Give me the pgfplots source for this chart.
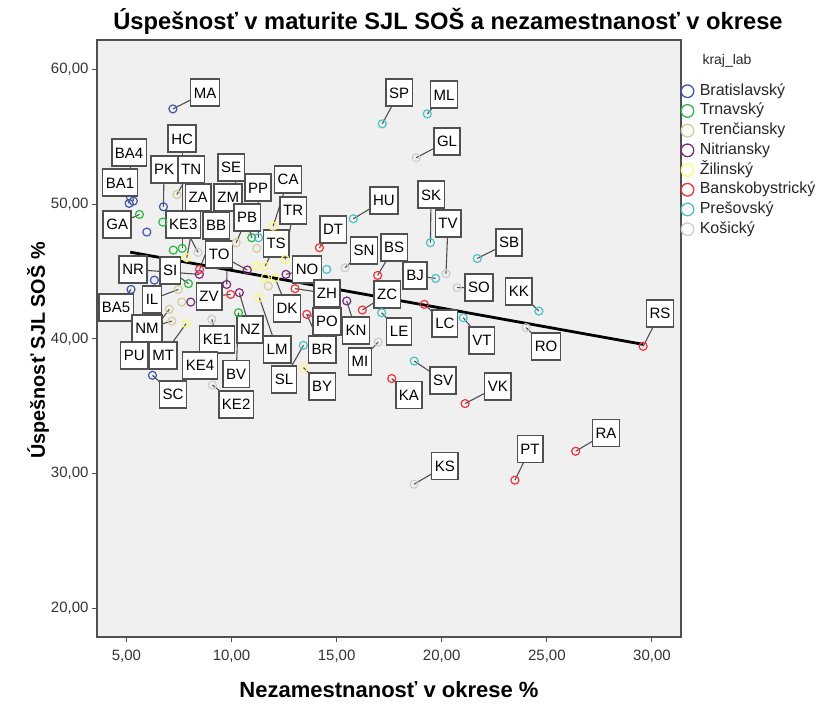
\documentclass[border=0pt]{standalone}
\usepackage{fontspec}
\setmainfont{Liberation Sans}
\usepackage{pgfplots}
\usepackage{pgfplotstable}
\pgfplotsset{compat=1.18}

\definecolor{cBA}{HTML}{3E58AC}
\definecolor{cTT}{HTML}{2EB848}
\definecolor{cTN}{HTML}{D3CE97}
\definecolor{cNR}{HTML}{7C287D}
\definecolor{cZA}{HTML}{FBF873}
\definecolor{cBB}{HTML}{EF3338}
\definecolor{cPO}{HTML}{48C2C5}
\definecolor{cKE}{HTML}{CCCCCC}
\definecolor{bgc}{HTML}{F0F0F0}
\definecolor{frm}{HTML}{505050}

\pgfplotstableread{
x y
7.21 57.08
5.13 50.06
5.33 50.23
6.76 49.81
5.97 47.93
6.33 44.36
5.22 43.67
6.24 37.29
}\tBA
\pgfplotstableread{
x y
5.62 49.24
6.73 48.67
7.23 46.59
7.65 46.72
7.95 44.10
10.96 47.51
10.33 41.94
}\tTT
\pgfplotstableread{
x y
7.40 50.72
10.22 47.14
11.20 46.72
7.47 43.67
7.63 42.73
7.04 42.19
7.16 41.32
11.75 43.92
}\tTN
\pgfplotstableread{
x y
8.47 44.79
10.75 45.11
12.59 44.79
8.06 42.73
9.77 44.04
10.37 43.43
15.48 42.81
}\tNR
\pgfplotstableread{
x y
11.98 48.37
7.87 46.03
12.55 45.90
11.15 45.40
11.60 45.40
11.60 44.54
12.07 44.54
11.32 43.06
7.84 41.13
13.42 37.86
}\tZA
\pgfplotstableread{
x y
8.48 45.16
14.18 46.77
13.02 43.73
9.96 43.30
13.58 41.82
16.95 44.71
16.22 42.14
19.17 42.56
17.62 37.05
21.11 35.19
23.48 29.50
26.37 31.65
29.58 39.44
}\tBB
\pgfplotstableread{
x y
11.28 47.51
15.79 48.92
14.53 45.16
17.17 55.97
19.31 56.71
19.46 47.14
19.71 44.49
21.69 45.97
24.62 42.06
17.14 41.94
21.02 41.57
13.42 39.52
18.69 38.35
}\tPO
\pgfplotstableread{
x y
8.41 46.42
9.06 41.45
9.09 36.57
15.40 45.28
20.20 44.84
20.73 43.80
16.98 39.76
18.78 53.45
24.01 40.83
18.68 29.20
}\tKE

\pgfplotstableread{
lab x y lx ly
MA 7.21 57.08 8.74 58.29
HC 7.65 46.72 7.65 54.88
BA4 5.33 50.23 5.13 53.84
BA1 5.13 50.06 4.70 51.61
GA 5.62 49.24 4.56 48.50
PK 6.76 49.81 6.79 52.58
TN 7.40 50.72 8.08 52.58
SE 10.96 47.51 9.98 52.73
ZA 7.87 46.03 8.41 50.50
ZM 9.77 44.04 9.84 50.50
PP 11.28 47.51 11.26 51.24
CA 11.98 48.37 12.69 51.84
TR 12.55 45.90 12.93 49.54
PB 10.22 47.14 10.74 49.02
KE3 8.41 46.42 7.70 48.50
BB 8.48 45.16 9.27 48.42
TS 11.60 45.40 12.12 47.09
TO 10.75 45.11 9.41 46.27
NR 8.47 44.79 5.32 45.16
SI 7.95 44.10 7.08 45.08
IL 7.47 43.67 6.22 42.93
ZV 9.96 43.30 8.93 43.15
BA5 5.22 43.67 4.51 42.34
NM 7.16 41.32 5.98 40.78
PU 7.04 42.19 5.37 38.78
MT 7.84 41.13 6.75 38.78
SC 6.24 37.29 7.22 35.88
KE1 9.06 41.45 9.31 39.96
KE4 8.50 38.03 8.50 38.03
KE2 9.09 36.57 10.22 35.14
BV 10.33 41.94 10.22 37.37
NZ 10.37 43.43 10.88 40.70
DK 12.07 44.54 12.64 42.26
LM 11.32 43.06 12.17 39.22
NO 12.59 44.79 13.59 45.16
ZH 13.02 43.73 14.54 43.38
PO 13.58 41.82 14.54 41.30
BR 13.58 41.82 14.31 39.22
SL 13.42 39.52 12.50 36.99
BY 13.42 37.86 14.31 36.47
KN 15.48 42.81 15.92 40.63
ZC 16.22 42.14 17.40 43.30
LE 17.14 41.94 17.97 40.56
MI 16.98 39.76 16.11 38.33
SN 15.40 45.28 16.30 46.57
BS 16.95 44.71 17.73 46.79
DT 14.18 46.77 14.83 48.13
HU 15.79 48.92 17.25 50.28
SP 17.17 55.97 17.97 58.29
ML 19.31 56.71 20.11 58.14
GL 18.78 53.45 20.25 54.66
SK 19.46 47.14 19.49 50.72
TV 20.20 44.84 20.30 48.57
BJ 19.71 44.49 18.73 44.71
SO 20.73 43.80 21.77 43.82
SB 21.69 45.97 23.20 47.16
KK 24.62 42.06 23.67 43.53
LC 19.17 42.56 20.15 41.15
VT 21.02 41.57 21.91 39.89
RO 24.01 40.83 24.96 39.44
RS 29.58 39.44 30.38 41.89
SV 18.69 38.35 20.06 36.92
KA 17.62 37.05 18.44 35.81
VK 21.11 35.19 22.67 36.47
RA 26.37 31.65 27.81 32.99
PT 23.48 29.50 24.20 31.80
KS 18.68 29.20 20.15 30.54
}\tLab

\begin{document}
\begin{tikzpicture}
\useasboundingbox (-97pt,-68pt) rectangle (723pt,637pt);
\begin{axis}[
  scale only axis, width=584pt, height=597pt,
  xmin=3.6, xmax=31.38, ymin=17.85, ymax=62.2,
  xtick={5,10,15,20,25,30}, ytick={20,30,40,50,60},
  tick pos=left, tick align=outside, major tick length=5pt,
  tick style={frm, line width=1pt},
  axis line style={frm, line width=1.2pt},
  axis background/.style={fill=bgc},
  clip=false,
  /pgf/number format/fixed, /pgf/number format/fixed zerofill,
  /pgf/number format/precision=2, /pgf/number format/use comma,
  /pgf/number format/assume math mode=true,
  ticklabel style={font=\fontsize{15}{17}\selectfont, text=black!80},
  xticklabel style={yshift=-4pt},
  xlabel={Nezamestnanosť v okrese \%},
  ylabel={Úspešnosť SJL SOŠ \%},
  xlabel style={at={(axis description cs:0.5,-0.0888)}, anchor=center, font=\bfseries\fontsize{22}{26}\selectfont},
  ylabel style={at={(axis description cs:-0.101,0.48)}, anchor=center, font=\bfseries\fontsize{19.8}{23}\selectfont},
  legend style={at={(axis description cs:1,0.931)}, anchor=north west, draw=none, fill=none,
    font=\fontsize{16}{18}\selectfont, text=black!85, row sep=0pt, inner sep=0pt,
    nodes={inner xsep=0pt, inner ysep=2.85pt, text height=11pt, text depth=3pt},
    /tikz/every odd column/.style={column sep=6pt}},
  legend cell align=left,
  legend image code/.code={\draw[#1, mark size=6.3pt, line width=1.3pt] plot coordinates {(6.3pt,0pt)};},
]
\addplot[forget plot, mark=none, draw=frm, line width=1.1pt,
  quiver={u=\thisrow{lx}-\thisrow{x}, v=\thisrow{ly}-\thisrow{y}}] table[x=x, y=y] {\tLab};
\addplot[forget plot, only marks, mark=*, mark options={draw=none, fill=none},
  point meta=explicit symbolic, nodes near coords,
  nodes near coords style={anchor=center, draw=frm, line width=1.5pt, fill=white, text=black,
    font=\fontsize{15}{17}\selectfont, inner xsep=3.2pt, inner ysep=0pt, minimum height=27pt,
    text height=11pt, text depth=0pt}] table[x=lx, y=ly, meta=lab] {\tLab};
\addplot[only marks, mark=o, mark size=4pt, line width=1.2pt, color=cBA] table {\tBA};
\addlegendentry{Bratislavský}
\addplot[only marks, mark=o, mark size=4pt, line width=1.2pt, color=cTT] table {\tTT};
\addlegendentry{Trnavský}
\addplot[only marks, mark=o, mark size=4pt, line width=1.2pt, color=cTN] table {\tTN};
\addlegendentry{Trenčiansky}
\addplot[only marks, mark=o, mark size=4pt, line width=1.2pt, color=cNR] table {\tNR};
\addlegendentry{Nitriansky}
\addplot[only marks, mark=o, mark size=4pt, line width=1.2pt, color=cZA] table {\tZA};
\addlegendentry{Žilinský}
\addplot[only marks, mark=o, mark size=4pt, line width=1.2pt, color=cBB] table {\tBB};
\addlegendentry{Banskobystrický}
\addplot[only marks, mark=o, mark size=4pt, line width=1.2pt, color=cPO] table {\tPO};
\addlegendentry{Prešovský}
\addplot[only marks, mark=o, mark size=4pt, line width=1.2pt, color=cKE] table {\tKE};
\addlegendentry{Košický}
\addplot[forget plot, mark=none, black, line width=2.8pt] coordinates {(5.18,46.44) (29.58,39.59)};
\node[font=\fontsize{14}{17}\selectfont, text=black!85] at (axis description cs:1.0788,0.965) {kraj\_lab};
\node[font=\bfseries\fontsize{23.7}{28}\selectfont] at (axis description cs:0.601,1.032) {Úspešnosť v maturite SJL SOŠ a nezamestnanosť v okrese};
\end{axis}
\end{tikzpicture}
\end{document}
